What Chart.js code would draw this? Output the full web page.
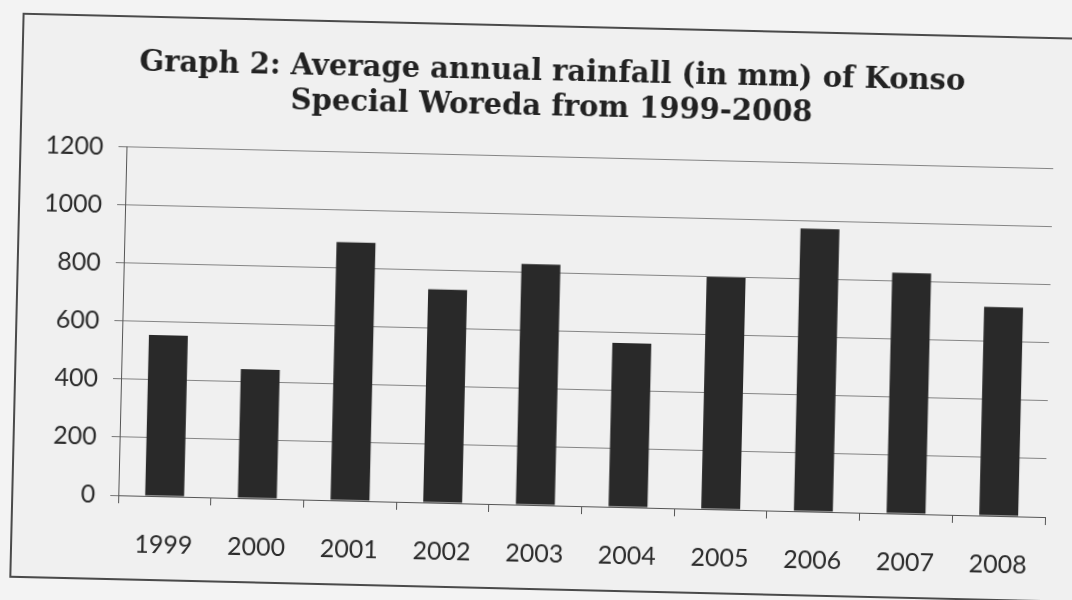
<!DOCTYPE html>
<html>
<head>
<meta charset="utf-8">
<title>Average annual rainfall of Konso Special Woreda</title>
<script src="https://cdn.jsdelivr.net/npm/chart.js@4/dist/chart.umd.min.js"></script>
<style>
  html, body { margin: 0; padding: 0; background: #f3f3f3; overflow: hidden; }
  #page {
    position: relative;
    width: 1072px;
    height: 600px;
    transform-origin: 536px 300px;
    transform: rotate(1.35deg);
  }
  #frame {
    position: absolute;
    left: 16px;
    top: 25px;
    width: 1100px;
    height: 565px;
    border: 2px solid #4a4a4a;
    background: #f0f0f0;
    box-sizing: border-box;
  }
  #chart { position: absolute; left: 0; top: 0; }
</style>
</head>
<body>
<div id="page">
  <div id="frame"></div>
  <canvas id="chart" width="1072" height="600"></canvas>
</div>
<script>
// Years on the category axis
const years = ['1999', '2000', '2001', '2002', '2003', '2004', '2005', '2006', '2007', '2008'];

// Average annual rainfall, mm
const rainfall = [555, 445, 890, 735, 830, 565, 800, 975, 830, 720];

// Value axis range and step
const yMin = 0;
const yMax = 1200;
const yStep = 200;

// Title lines
const titleLines = [
  'Graph 2: Average annual rainfall (in mm) of Konso',
  'Special Woreda from 1999-2008'
];

const labelFont = { family: 'Lato, "Noto Sans", sans-serif', size: 25 };
const textColor = '#2b2b2b';

function draw() {
  new Chart(document.getElementById('chart'), {
    type: 'bar',
    data: {
      labels: years,
      datasets: [{
        label: 'Rainfall (mm)',
        data: rainfall,
        backgroundColor: '#292929',
        borderWidth: 0,
        barPercentage: 0.42,
        categoryPercentage: 1
      }]
    },
    options: {
      responsive: false,
      animation: false,
      devicePixelRatio: 1,
      layout: { padding: { left: 44, right: 22, top: 0, bottom: 0 } },
      plugins: {
        legend: { display: false },
        tooltip: { enabled: false },
        title: {
          display: true,
          text: titleLines,
          color: '#222',
          font: { family: '"DejaVu Serif", serif', size: 29, weight: 'bold', lineHeight: 1.24 },
          padding: { top: 54, bottom: 31 }
        }
      },
      scales: {
        x: {
          offset: true,
          grid: {
            display: true,
            offset: true,
            drawOnChartArea: false,
            drawTicks: true,
            tickLength: 8,
            tickColor: '#555'
          },
          border: { display: true, color: '#555', width: 1 },
          ticks: { font: labelFont, color: textColor, padding: 26, maxRotation: 0 },
          afterFit(scale) { scale.height = 95; }
        },
        y: {
          min: yMin,
          max: yMax,
          grid: {
            color: '#858585',
            lineWidth: 1,
            drawTicks: true,
            tickLength: 8,
            tickColor: '#777'
          },
          border: { display: true, color: '#555', width: 1 },
          ticks: {
            stepSize: yStep,
            font: labelFont,
            color: textColor,
            padding: 15,
            callback: (value) => String(value)
          },
          afterFit(scale) { scale.width = 79; }
        }
      }
    }
  });
}

Promise.all([
  document.fonts.load('25px Lato'),
  document.fonts.load('bold 29px "DejaVu Serif"')
]).then(draw, draw);
</script>
</body>
</html>
